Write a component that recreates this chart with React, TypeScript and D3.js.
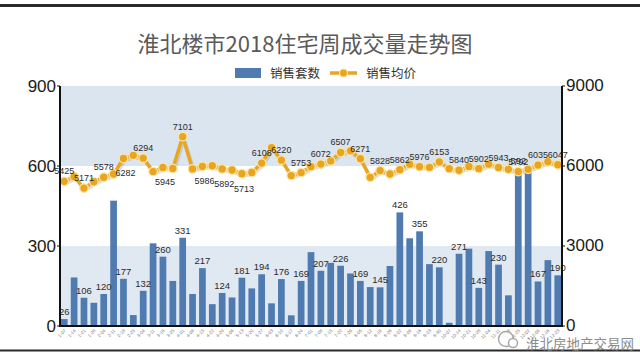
import React from "react";
import * as d3 from "d3";

const weeks = [
  "1-07","1-14","1-21","1-28","2-04","2-11","2-18","2-25","3-04","3-11",
  "3-18","3-25","4-01","4-08","4-15","4-22","4-29","5-06","5-13","5-20",
  "5-27","6-03","6-10","6-17","6-24","7-01","7-08","7-15","7-22","7-29",
  "8-05","8-12","8-19","8-26","9-02","9-09","9-16","9-23","9-30","10-07",
  "10-14","10-21","10-28","11-04","11-11","11-18","11-25","12-02","12-09","12-16","12-23"
];

const salesCount = [
  26, 182, 106, 87, 120, 470, 177, 41, 132, 310,
  260, 169, 331, 120, 217, 82, 124, 107, 181, 141,
  194, 85, 176, 40, 169, 277, 207, 237, 226, 197,
  169, 146, 145, 225, 426, 329, 355, 232, 220, 12,
  271, 290, 143, 281, 230, 115, 592, 600, 167, 247, 190
];

const avgPrice = [
  5425, 5600, 5171, 5410, 5578, 5700, 6282, 6400, 6294, 5790,
  5945, 5910, 7101, 5890, 5986, 6010, 5892, 5850, 5713, 5760,
  6108, 6690, 6220, 5640, 5753, 5975, 6072, 6190, 6507, 6570,
  6271, 5575, 5828, 5700, 5862, 6070, 5976, 5950, 6153, 5900,
  5840, 5985, 5902, 6070, 5943, 5875, 5792, 5875, 6035, 6160, 6047
];

const leftTicks = [0, 300, 600, 900];
const rightTicks = [0, 3000, 6000, 9000];
const titleText = "淮北楼市2018住宅周成交量走势图";
const legendBar = "销售套数";
const legendLine = "销售均价";
const footerText = "淮北房地产交易网";

const belowLabels = new Set([6, 10, 14, 16, 18]);

const L = 60, R = 562, T = 86, B = 326;
const barColor = "#4f7bb0";
const lineColor = "#eaa520";
const bandColor = "#dbe5f0";
const numFont = "Liberation Sans, Arial, sans-serif";
const cjkFont = "Noto Sans CJK SC, sans-serif";

export default function App() {
  const idx = weeks.map((_, i) => i);
  const x = d3.scaleBand<number>().domain(idx).range([L, R]).paddingInner(0.32).paddingOuter(0.09);
  const yL = d3.scaleLinear().domain([0, 900]).range([B, T]);
  const yR = d3.scaleLinear().domain([0, 9000]).range([B, T]);
  const cx = (i: number) => (x(i) as number) + x.bandwidth() / 2;
  const line = d3.line<number>().x((_, i) => cx(i)).y((d) => yR(d));
  const path = line(avgPrice) || "";

  return (
    <svg width={640} height={360} style={{ position: "absolute", left: 0, top: 0, background: "#fff" }}>
      <rect x={0} y={0} width={640} height={360} fill="#fff" />
      <line x1={0} x2={640} y1={5.5} y2={5.5} stroke="#2a2a2a" strokeWidth={3} />
      <line x1={0} x2={640} y1={350.5} y2={350.5} stroke="#2a2a2a" strokeWidth={2} />

      <text x={305} y={52} textAnchor="middle" fontFamily={cjkFont} fontSize={22} fill="#5a5a5a">{titleText}</text>

      {/* legend */}
      <rect x={235} y={68} width={26} height={10} fill={barColor} />
      <text x={270} y={77.5} fontFamily={cjkFont} fontSize={12.5} fill="#333">{legendBar}</text>
      <line x1={330} x2={357} y1={73} y2={73} stroke={lineColor} strokeWidth={3.5} />
      <circle cx={343.5} cy={73} r={4} fill={lineColor} stroke="#fbe7a6" strokeWidth={1.2} />
      <text x={366} y={77.5} fontFamily={cjkFont} fontSize={12.5} fill="#333">{legendLine}</text>

      {/* bands */}
      <rect x={L} y={yL(900)} width={R - L} height={yL(600) - yL(900)} fill={bandColor} />
      <rect x={L} y={yL(300)} width={R - L} height={yL(0) - yL(300)} fill={bandColor} opacity={0.85} />

      {/* bars */}
      {salesCount.map((v, i) => (
        <rect key={"b" + i} x={x(i)} y={yL(v)} width={x.bandwidth()} height={yL(0) - yL(v)} fill={barColor} />
      ))}
      {salesCount.map((v, i) =>
        i % 2 === 0 ? (
          <text key={"bl" + i} x={cx(i)} y={yL(v) - 4} textAnchor="middle" fontFamily={numFont} fontSize={9.5} fill="#2a2a2a">{v}</text>
        ) : null
      )}

      {/* line */}
      <path d={path} fill="none" stroke="#9a9a9a" strokeOpacity={0.35} strokeWidth={3.5} transform="translate(1.5,2)" />
      <path d={path} fill="none" stroke={lineColor} strokeWidth={3.5} strokeLinejoin="round" />
      {avgPrice.map((v, i) => (
        <circle key={"c" + i} cx={cx(i)} cy={yR(v)} r={4.3} fill={lineColor} stroke="#fbe6a3" strokeWidth={1.3} />
      ))}
      {avgPrice.map((v, i) =>
        i % 2 === 0 ? (
          <text
            key={"ll" + i}
            x={cx(i) + (belowLabels.has(i) ? 2 : 0)}
            y={belowLabels.has(i) ? yR(v) + 18 : yR(v) - 7}
            textAnchor="middle"
            fontFamily={numFont}
            fontSize={9}
            fill="#2a2a2a"
          >{v}</text>
        ) : null
      )}

      {/* axes */}
      <line x1={L} x2={L} y1={T} y2={B + 1} stroke="#111" strokeWidth={2} />
      <line x1={R} x2={R} y1={T} y2={B + 1} stroke="#111" strokeWidth={2} />
      <line x1={L} x2={R} y1={B} y2={B} stroke="#111" strokeWidth={2} />
      {leftTicks.map((t) => (
        <g key={"lt" + t}>
          <line x1={L - 3} x2={L} y1={yL(t)} y2={yL(t)} stroke="#111" strokeWidth={1} />
          <text x={L - 4} y={yL(t) + 6} textAnchor="end" fontFamily={numFont} fontSize={17} fill="#1a1a1a">{t}</text>
        </g>
      ))}
      {rightTicks.map((t) => (
        <g key={"rt" + t}>
          <line x1={R} x2={R + 3} y1={yR(t)} y2={yR(t)} stroke="#111" strokeWidth={1} />
          <text x={R + 4} y={yR(t) + 5} textAnchor="start" fontFamily={numFont} fontSize={17} fill="#1a1a1a">{t}</text>
        </g>
      ))}
      {weeks.map((w, i) => (
        <text
          key={"xl" + i}
          transform={`translate(${cx(i) + 2},${B + 5}) rotate(-45)`}
          textAnchor="end"
          fontFamily={numFont}
          fontSize={4.5}
          fill="#777"
        >{w}</text>
      ))}

      {/* footer attribution */}
      <g opacity={0.85}>
        <circle cx={506} cy={339} r={7.5} fill="#fff" stroke="#9a9a9a" strokeWidth={1.5} />
        <circle cx={513} cy={343} r={4.5} fill="#fff" stroke="#9a9a9a" strokeWidth={1.5} />
        <text x={526} y={348.5} fontFamily={cjkFont} fontSize={13.5} fill="#777">{footerText}</text>
      </g>
    </svg>
  );
}
